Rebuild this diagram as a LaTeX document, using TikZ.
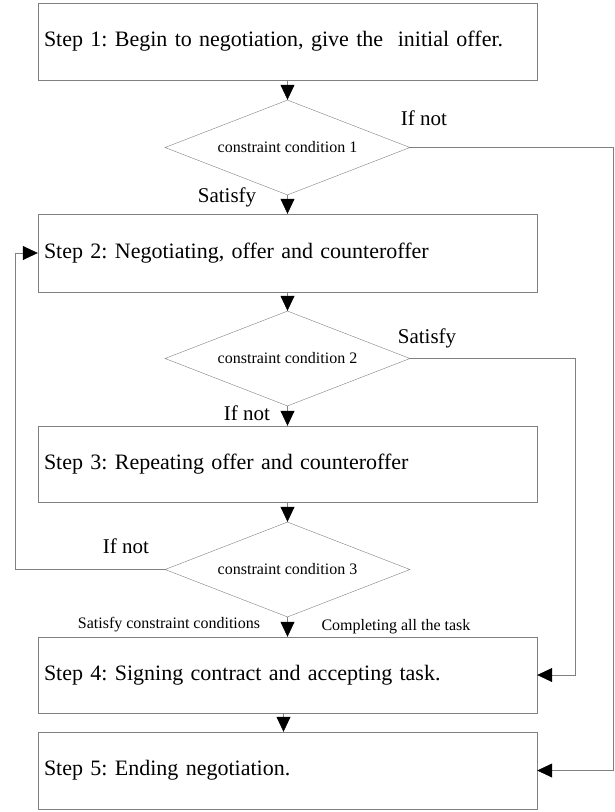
\documentclass[tikz,border=0pt]{standalone}
\usepackage{fontspec}
\setmainfont{Liberation Serif}
\usetikzlibrary{arrows.meta,shapes.geometric,positioning}
\frenchspacing

\begin{document}
\begin{tikzpicture}[x=1pt,y=1pt]
			\tikzstyle{Step}	= [draw=gray, rectangle, minimum width=499pt, minimum height=77pt, text width=487pt, inner xsep=6pt, align=left, font=\fontsize{22}{26}\selectfont]
			\tikzstyle{Cond}	= [draw=gray, diamond, aspect=2.58, minimum width=245pt, minimum height=95pt, inner sep=0pt, font=\fontsize{16}{19}\selectfont]
			\tikzstyle{Flow}	= [gray, line width=0.6pt, -{Triangle[color=black, width=14pt, length=15pt]}]
			\tikzstyle{Big}		= [font=\fontsize{21}{25}\selectfont, inner sep=0pt]
			\tikzstyle{Small}	= [font=\fontsize{16}{19}\selectfont, inner sep=0pt]

			\useasboundingbox (0,0) rectangle (615,-812);

			\node (s1) at (287.5, -41.5) [Step] {Step 1: Begin to negotiation, give the \ initial offer.};
			\node (c1) at (287.5, -147.5) [Cond] {constraint condition 1};
			\node (s2) at (287.5, -253) [Step, minimum height=78pt] {Step 2: Negotiating, offer and counteroffer};
			\node (c2) at (287.5, -358.5) [Cond] {constraint condition 2};
			\node (s3) at (287.5, -464) [Step, minimum height=76pt] {Step 3: Repeating offer and counteroffer};
			\node (c3) at (287.5, -569.5) [Cond] {constraint condition 3};
			\node (s4) at (287.5, -675) [Step, minimum height=76pt] {Step 4: Signing contract and accepting task.};
			\node (s5) at (287.5, -770.5) [Step] {Step 5: Ending negotiation.};

			\coordinate (r1) at (613, 0);
			\coordinate (r2) at (575, 0);
			\coordinate (l3) at (15, 0);

			\node (ifnot1) at (424, -118) [Big] {If not};
			\node (sat1) at (227, -197) [Big] {Satisfy};
			\node (sat2) at (427, -338) [Big] {Satisfy};
			\node (ifnot2) at (247, -413) [Big] {If not};
			\node (ifnot3) at (126, -546) [Big] {If not};
			\node (satall) at (169, -625) [Small] {Satisfy constraint conditions};
			\node (task) at (396, -627) [Small] {Completing all the task};

			\draw [Flow] (s1) to (c1);
			\draw [Flow] (c1) to (s2);
			\draw [Flow] (s2) to (c2);
			\draw [Flow] (c2) to (s3);
			\draw [Flow] (s3) to (c3);
			\draw [Flow] (c3) to (s4);
			\draw [Flow] ([xshift=-4pt]s4.south) to ([xshift=-4pt]s5.north);

			\draw [Flow] (c1.east) -| (r1 |- s5.east) -- (s5.east);
			\draw [Flow] (c2.east) -| (r2 |- s4.east) -- (s4.east);
			\draw [Flow] (c3.west) -| (l3 |- s2.west) -- (s2.west);
		\end{tikzpicture}
\end{document}
